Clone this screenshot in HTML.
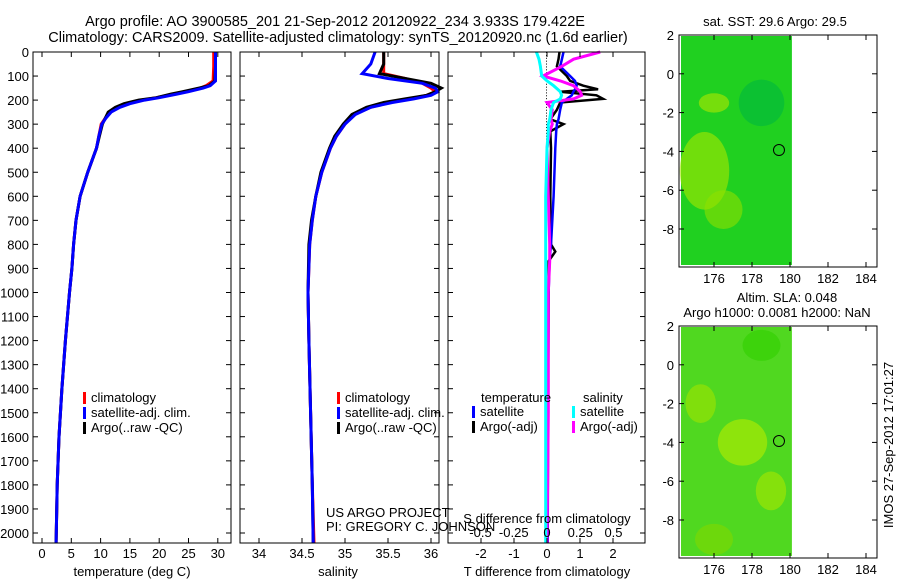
<!DOCTYPE html>
<html><head><meta charset="utf-8"><style>
body{margin:0;background:#fff;}
svg{display:block;font-family:"Liberation Sans",sans-serif;}
text{font-size:13px;fill:#000;}
.t{font-size:14.5px;}
</style></head><body>
<svg id="fig" width="900" height="580" viewBox="0 0 900 580">
<text class="t" x="335" y="26" text-anchor="middle">Argo profile: AO 3900585_201 21-Sep-2012 20120922_234 3.933S 179.422E</text>
<text class="t" x="338" y="42" text-anchor="middle">Climatology: CARS2009. Satellite-adjusted climatology: synTS_20120920.nc (1.6d earlier)</text>
<g id="p1"></g>
<g id="p2"></g>
<g id="p3"></g>
<g id="m1"></g>
<g id="m2"></g>
<text x="775" y="26" text-anchor="middle">sat. SST: 29.6 Argo: 29.5</text>
<text x="787" y="302" text-anchor="middle">Altim. SLA: 0.048</text>
<text x="777" y="317" text-anchor="middle">Argo h1000: 0.0081 h2000: NaN</text>
<text transform="translate(893,445) rotate(-90)" text-anchor="middle">IMOS 27-Sep-2012 17:01:27</text>
<text x="326" y="517">US ARGO PROJECT</text>
<text x="326" y="531">PI: GREGORY C. JOHNSON</text>
</svg>
<script>
const NS="http://www.w3.org/2000/svg";
const depthTicks=[0,100,200,300,400,500,600,700,800,900,1000,1100,1200,1300,1400,1500,1600,1700,1800,1900,2000];
const tDepth=[0,60,120,140,150,165,175,190,200,215,230,250,275,300,350,400,500,600,700,800,900,1000,1200,1400,1600,1800,2040];
const tClim=[29.3,29.3,29.2,28,27,24.5,22.5,19.5,17,14.5,13,11.6,10.8,10.1,9.7,9.3,7.8,6.5,5.8,5.4,5.1,4.7,4.0,3.4,2.9,2.6,2.4];
const tSat=[29.6,29.6,29.6,28.7,27.5,25,23,20,17.5,15,13.3,11.8,10.9,10.2,9.7,9.3,7.8,6.5,5.8,5.4,5.1,4.7,4.0,3.4,2.9,2.6,2.4];
const tArgo=[29.6,29.6,29.5,28.5,26.8,24,22,19.5,16.5,14,12.5,11.3,10.8,10.3,9.8,9.3,7.8,6.5,5.8,5.4,5.1,4.7,4.0,3.4,2.9,2.6,2.4];
const sDepth=[0,50,90,110,130,150,165,180,195,210,230,260,300,350,400,500,600,700,800,1000,1200,1500,1800,2040];
const sClim=[35.45,35.45,35.45,35.7,35.9,36.0,36.05,35.95,35.75,35.5,35.3,35.1,35.0,34.9,34.83,34.73,34.66,34.62,34.59,34.57,34.58,34.6,34.62,34.64];
const sSat=[35.35,35.3,35.2,35.5,35.9,36.05,36.08,36.0,35.8,35.55,35.3,35.12,35.0,34.9,34.83,34.73,34.66,34.62,34.59,34.57,34.58,34.6,34.62,34.63];
const sArgo=[35.45,35.45,35.4,35.7,36.0,36.12,36.05,35.95,35.7,35.45,35.25,35.08,34.98,34.88,34.82,34.72,34.66,34.61,34.58,34.57,34.58,34.6,34.62,34.63];
const dDepth=[0,30,60,100,120,140,155,165,180,195,210,240,280,300,330,400,600,800,830,870,1000,1500,2040];
const dTSat=[0.5,0.45,0.4,0.7,0.85,0.9,0.85,0.8,0.75,0.6,0.45,0.4,0.35,0.3,0.28,0.25,0.2,0.12,0.1,0.08,0.05,0.03,0.02];
const dTArgo=[0.38,0.35,0.3,0.6,0.7,1.1,1.55,0.4,1.5,1.7,0.4,0.3,0.1,0.5,0.1,0.12,0.1,0.12,0.25,0.05,0.05,0.03,0.02];
const dSSat=[-0.08,-0.06,-0.05,-0.04,0.0,0.05,0.08,0.1,0.11,0.1,0.05,0.03,0.02,0.01,0.01,0.0,-0.01,-0.01,-0.01,-0.01,-0.01,-0.01,-0.01];
const dSArgo=[0.4,0.2,0.11,-0.03,0.1,0.2,0.23,0.25,0.26,0.2,0.0,0.04,0.03,0.04,0.02,0.0,0.01,0.02,0.02,0.02,0.01,0.01,0.0];
function mk(p,tag,a,txt){const e=document.createElementNS(NS,tag);for(const k in a)e.setAttribute(k,a[k]);if(txt!==undefined)e.textContent=txt;p.appendChild(e);return e;}
const y=d=>52+d*0.2405;
function frame(g,x0,x1,y0,y1){const r=mk(g,'rect',{x:x0,y:y0,width:x1-x0,height:y1-y0,fill:'none',stroke:'#000'});}
function xticks(g,ticks,fx,y0,y1,ty,lab){ticks.forEach((t,i)=>{const X=fx(t);mk(g,'line',{x1:X,x2:X,y1:y1,y2:y1-5,stroke:'#000'});mk(g,'line',{x1:X,x2:X,y1:y0,y2:y0+5,stroke:'#000'});const e=mk(g,'text',{x:X,y:ty,'text-anchor':'middle'},lab?lab[i]:t);});}
function yticks(g,x0,x1,labels){depthTicks.forEach(d=>{mk(g,'line',{x1:x0,x2:x0+5,y1:y(d),y2:y(d),stroke:'#000'});mk(g,'line',{x1:x1,x2:x1-5,y1:y(d),y2:y(d),stroke:'#000'});if(labels){const e=mk(g,'text',{x:x0-4,y:y(d)+5,'text-anchor':'end'},d);}});}
function line(g,ds,vs,fx,col,w,name){const pts=ds.map((d,i)=>fx(vs[i]).toFixed(1)+','+y(d).toFixed(1)).join(' ');const e=mk(g,'polyline',{points:pts,fill:'none',stroke:col,'stroke-width':w});}
function legend(g,x,yy,items){items.forEach((it,i)=>{mk(g,'rect',{x:x,y:yy+i*15-10,width:3,height:12,fill:it[1]});const e=mk(g,'text',{x:x+8,y:yy+i*15},it[0]);});}
const p1=document.getElementById('p1');const fT=v=>42+v*5.86;
line(p1,tDepth,tClim,fT,'#f00',3,'temp-climatology-line');
line(p1,tDepth,tArgo,fT,'#000',3,'temp-argo-line');
line(p1,tDepth,tSat,fT,'#00f',3,'temp-satellite-line');
frame(p1,33,231,52,543);yticks(p1,33,231,true);
xticks(p1,[0,5,10,15,20,25,30],fT,52,543,558);
mk(p1,'text',{x:132,y:576,'text-anchor':'middle'},'temperature (deg C)');
legend(p1,83,402,[['climatology','#f00'],['satellite-adj. clim.','#00f'],['Argo(..raw -QC)','#000']]);
const p2=document.getElementById('p2');const fS=v=>345+(v-35)*86;
line(p2,sDepth,sClim,fS,'#f00',3,'sal-climatology-line');
line(p2,sDepth,sArgo,fS,'#000',3,'sal-argo-line');
line(p2,sDepth,sSat,fS,'#00f',3,'sal-satellite-line');
frame(p2,240,439,52,543);yticks(p2,240,439,false);
xticks(p2,[34,34.5,35,35.5,36],fS,52,543,558,['34','34.5','35','35.5','36']);
mk(p2,'text',{x:338,y:576,'text-anchor':'middle'},'salinity');
legend(p2,337,402,[['climatology','#f00'],['satellite-adj. clim.','#00f'],['Argo(..raw -QC)','#000']]);
const p3=document.getElementById('p3');const fDT=v=>547+v*33;const fDS=v=>547+v*133;
for(let d=0;d<2040;d+=12)mk(p3,'rect',{x:546,y:y(d),width:1,height:1,fill:'#000'});
line(p3,dDepth,dTArgo,fDT,'#000',2.5,'tdiff-argo-line');
line(p3,dDepth,dTSat,fDT,'#00f',2.5,'tdiff-satellite-line');
line(p3,dDepth,dSArgo,fDS,'#f0f',3,'sdiff-argo-line');
line(p3,dDepth,dSSat,fDS,'#0ff',3,'sdiff-satellite-line');
frame(p3,448,645,52,543);yticks(p3,448,645,false);
xticks(p3,[-2,-1,0,1,2],fDT,52,543,558);
[-0.5,-0.25,0,0.25,0.5].forEach(v=>{const e=mk(p3,'text',{x:fDS(v),y:537,'text-anchor':'middle'},v);});
mk(p3,'text',{x:547,y:523,'text-anchor':'middle'},'S difference from climatology');
mk(p3,'text',{x:547,y:576,'text-anchor':'middle'},'T difference from climatology');
mk(p3,'text',{x:481,y:402},'temperature');mk(p3,'text',{x:583,y:402},'salinity');
legend(p3,472,416,[['satellite','#00f'],['Argo(-adj)','#000']]);
legend(p3,572,416,[['satellite','#0ff'],['Argo(-adj)','#f0f']]);
const mapYTicks=[2,0,-2,-4,-6,-8];const mapXTicks=[176,178,180,182,184];
const blobs1=[[175.5,-5,1.3,2.0,'#a8e800'],[176,-1.5,0.8,0.5,'#b0e800'],[178.5,-1.5,1.2,1.2,'#00b840'],[176.5,-7,1,1,'#90e000']];
const blobs2=[[177.5,-4,1.3,1.2,'#b8ec00'],[175.3,-2,0.8,1,'#a0e400'],[179,-6.5,0.8,1,'#a8e800'],[176,-9,1,0.8,'#80d800'],[178.5,1,1,0.8,'#30d000']];
function map(id,y0,blobs,fill){const g=document.getElementById(id);const fx=v=>714+(v-176)*19;const fy=v=>y0+(2-v)*19.4;
mk(g,'rect',{x:681,y:y0+1,width:fx(180.1)-681,height:229,fill:fill});
blobs.forEach(b=>{mk(g,'ellipse',{cx:fx(b[0]),cy:fy(b[1]),rx:b[2]*19,ry:b[3]*19.4,fill:b[4],opacity:0.6});});
const c=mk(g,'circle',{cx:fx(179.42),cy:fy(-3.93),r:5.5,fill:'none',stroke:'#000'});
frame(g,679,877,y0,y0+232);
mapXTicks.forEach(t=>{mk(g,'line',{x1:fx(t),x2:fx(t),y1:y0+232,y2:y0+227,stroke:'#000'});mk(g,'line',{x1:fx(t),x2:fx(t),y1:y0,y2:y0+5,stroke:'#000'});const e=mk(g,'text',{x:fx(t),y:y0+248,'text-anchor':'middle'},t);});
mapYTicks.forEach(t=>{mk(g,'line',{x1:679,x2:684,y1:fy(t),y2:fy(t),stroke:'#000'});mk(g,'line',{x1:877,x2:872,y1:fy(t),y2:fy(t),stroke:'#000'});const e=mk(g,'text',{x:674,y:fy(t)+5,'text-anchor':'end'},t);});}
map('m1',35,blobs1,'#20d020');
map('m2',326,blobs2,'#50d820');
</script>
</body></html>
